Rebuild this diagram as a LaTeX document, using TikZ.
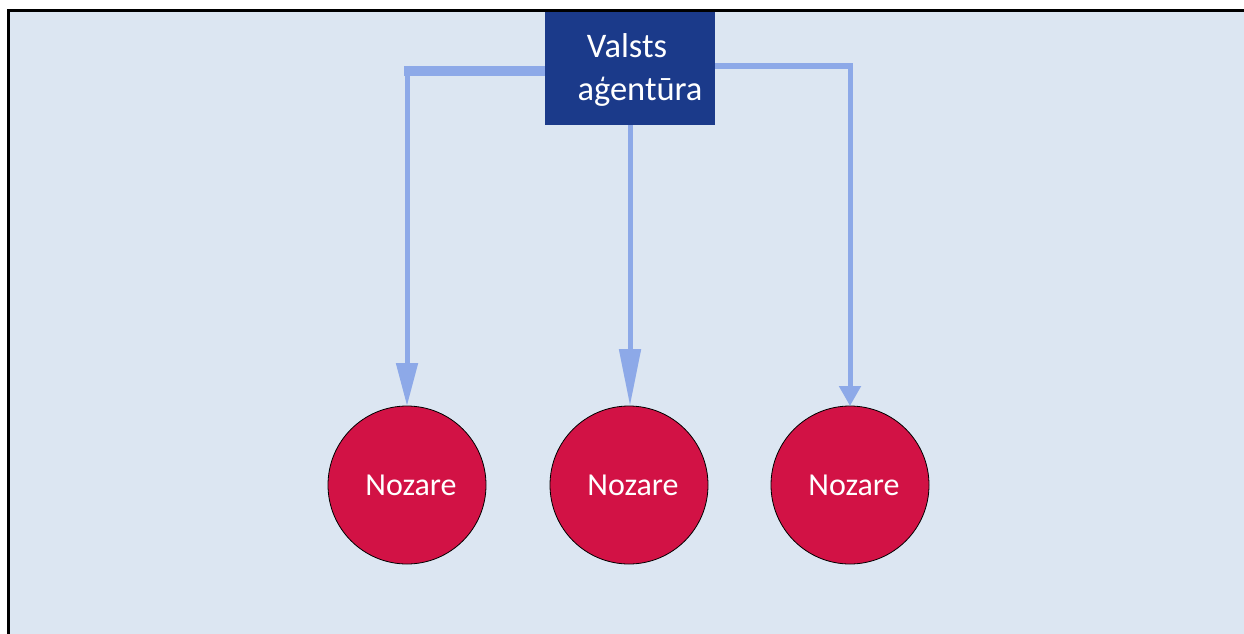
\documentclass[tikz,border=0pt]{standalone}
\usepackage{fontspec}
\setmainfont{Carlito}
\usetikzlibrary{arrows.meta,calc}
\definecolor{bgblue}{HTML}{DCE6F2}
\definecolor{agencyblue}{HTML}{1B3A8A}
\definecolor{linkblue}{HTML}{8DA9E8}
\definecolor{sectorred}{HTML}{D21245}
\tikzset{
  agencybox/.style={draw=none, fill=agencyblue, minimum width=170pt, minimum height=113pt, inner sep=0pt, outer sep=0pt},
  agencytext/.style={text=white, font=\fontsize{34.5}{40}\selectfont, inner sep=0pt, anchor=base},
  sector/.style={circle, draw=black, line width=0.8pt, fill=sectorred, minimum size=158pt, inner sep=0pt, outer sep=0pt, text=white, font=\fontsize{32}{38}\selectfont},
  link/.style={draw=linkblue, line width=5pt},
}
\begin{document}
\begin{tikzpicture}[x=1pt, y=-1pt]
  \useasboundingbox (0,0) rectangle (1244,634);
  % page background and frame
  \fill[white] (0,0) rectangle (1244,634);
  \fill[bgblue] (8,11) rectangle (1244,634);
  \draw[black, line width=3pt] (8,634) -- (8,11) -- (1244,11);

  % agency box
  \node[agencybox] (agency) at (630,68.5) {};
  \node[agencytext] (agencyA) at (627,57) {Valsts};
  \node[agencytext] (agencyB) at (640,100) {aģentūra};

  % sectors
  \node[sector] (lft) at (407,485) {\hspace*{8pt}Nozare};
  \node[sector] (mid) at (629,485) {\hspace*{8pt}Nozare};
  \node[sector] (rgt) at (850,485) {\hspace*{8pt}Nozare};

  % connectors
  \coordinate (lcorner) at ([yshift=-2.5pt]agency.west -| lft.north);
  \draw[link, line width=10pt] ([yshift=-2.5pt]agency.west) -- ([xshift=-3pt]lcorner);
  \draw[link, -{Triangle[length=43pt, width=21pt]}, linkblue] ([yshift=5pt]lcorner) -- (lft.north);
  \draw[link, -{Triangle[length=57pt, width=21pt]}, linkblue] (agency.south) -- (agency.south |- mid.north);
  \draw[link, -{Triangle[length=20pt, width=21pt]}, linkblue] ([yshift=2.5pt]agency.east) -| (rgt.north);
\end{tikzpicture}
\end{document}
